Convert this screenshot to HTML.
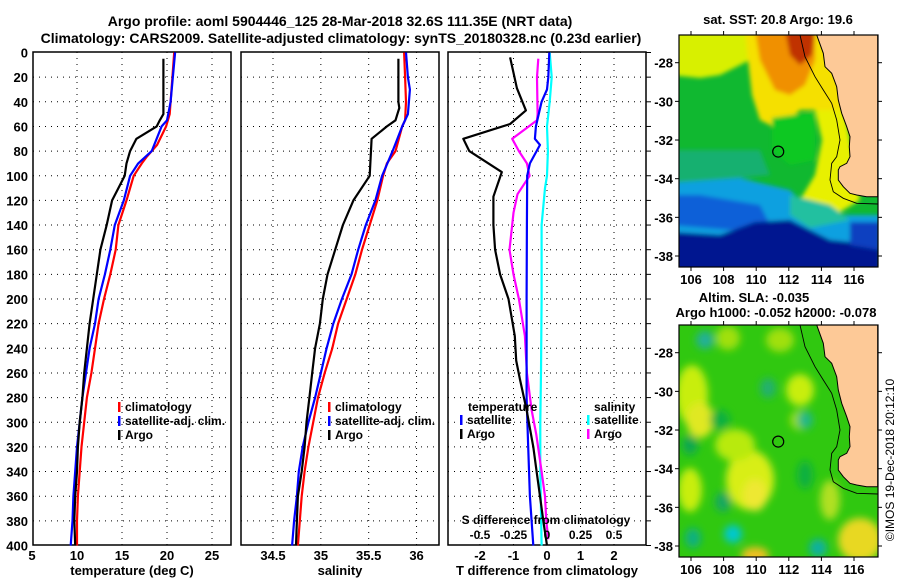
<!DOCTYPE html>
<html><head><meta charset="utf-8">
<style>
html,body{margin:0;padding:0;background:#fff;}
svg{display:block;font-family:"Liberation Sans",sans-serif;font-weight:bold;}
</style></head>
<body>
<svg id="chart" width="900" height="580" viewBox="0 0 900 580" xmlns="http://www.w3.org/2000/svg">
<text x="340" y="26" font-size="14" text-anchor="middle">Argo profile: aoml 5904446_125 28-Mar-2018 32.6S 111.35E (NRT data)</text>
<text x="341" y="43" font-size="14" text-anchor="middle">Climatology: CARS2009. Satellite-adjusted climatology: synTS_20180328.nc (0.23d earlier)</text>
<g id="plots"></g>
<g id="maps"></g>
</svg>
<script>
// ---------- DATA ----------
const depthTicks=[0,20,40,60,80,100,120,140,160,180,200,220,240,260,280,300,320,340,360,380,400];
const tempTicks=[5,10,15,20,25];
const salTicks=[34.5,35,35.5,36];
const salTickLabels=["34.5","35","35.5","36"];
const dTTicks=[-2,-1,0,1,2];
const dSTicks=[-0.5,-0.25,0,0.25,0.5];
const dSTickLabels=["-0.5","-0.25","0","0.25","0.5"];

const tClimDepth=[0,40,50,60,75,85,90,100,120,140,160,180,200,220,240,260,280,300,320,340,360,380,400];
const tClim=[20.8,20.4,20.3,19.9,18.9,17.7,17.2,16.3,15.5,14.6,14.3,13.7,13.0,12.4,12.0,11.6,11.1,10.8,10.5,10.3,10.1,10.0,10.0];
const tSatDepth=[0,40,55,60,80,90,100,120,140,160,180,200,220,240,260,280,300,320,340,360,380,400];
const tSat=[20.9,20.4,20.0,19.4,18.3,16.8,15.9,15.2,14.2,13.7,13.1,12.4,12.0,11.4,11.0,10.6,10.3,10.0,9.8,9.6,9.5,9.3];
const tArgoDepth=[5,50,55,60,70,80,90,100,110,120,140,160,180,200,220,240,260,280,300,320,340,360,380,400];
const tArgo=[19.6,19.6,19.2,18.85,16.6,15.9,15.5,15.3,14.6,13.9,13.3,12.6,12.2,11.8,11.4,11.1,10.8,10.6,10.3,10.1,10.0,9.8,9.7,9.8];

const sClimDepth=[0,20,40,55,60,80,90,100,120,140,160,180,200,220,240,260,280,300,320,340,360,380,400];
const sClim=[35.87,35.88,35.89,35.88,35.85,35.78,35.69,35.65,35.59,35.51,35.43,35.36,35.27,35.18,35.12,35.04,34.97,34.92,34.87,34.83,34.80,34.78,34.76];
const sSatDepth=[0,20,30,50,60,80,100,120,140,160,180,200,220,240,260,280,300,320,340,360,380,400];
const sSat=[35.89,35.91,35.93,35.91,35.85,35.75,35.64,35.57,35.47,35.39,35.32,35.22,35.13,35.06,35.0,34.94,34.87,34.81,34.77,34.75,34.72,34.70];
const sArgoDepth=[5,40,45,50,55,60,70,100,120,140,160,180,200,220,240,260,280,300,320,340,360,380,400];
const sArgo=[35.81,35.81,35.82,35.80,35.78,35.69,35.53,35.51,35.34,35.23,35.15,35.07,35.02,34.99,34.94,34.91,34.88,34.85,34.83,34.80,34.76,34.75,34.74];

const dTArgoDepth=[4,29,47,58,70,80,97,117,140,160,180,200,230,250,265,290,320,340,360,380,400];
const dTArgo=[-1.10,-0.90,-0.63,-1.10,-2.50,-2.32,-1.35,-1.60,-1.60,-1.55,-1.40,-1.15,-0.96,-0.92,-0.81,-0.61,-0.41,-0.31,-0.21,-0.11,0.0];
const dTSatDepth=[0,20,30,40,60,70,75,90,100,140,200,280,320,360,400];
const dTSat=[0.07,0.04,0.0,-0.16,-0.33,-0.36,-0.21,-0.51,-0.59,-0.60,-0.61,-0.61,-0.56,-0.51,-0.41];
const dSSatDepth=[0,20,40,60,80,100,110,140,200,260,300,340,400];
const dSSat=[0.02,0.035,0.02,0.0,0.007,0.0,-0.015,-0.04,-0.04,-0.045,-0.05,-0.05,-0.04];
const dSArgoDepth=[5,20,40,50,55,70,80,90,100,115,130,160,180,200,230,260,290,310,340,360,380,395];
const dSArgo=[-0.065,-0.075,-0.072,-0.07,-0.075,-0.26,-0.21,-0.15,-0.13,-0.22,-0.25,-0.28,-0.25,-0.21,-0.165,-0.15,-0.115,-0.08,-0.04,-0.015,-0.005,0.01];

const lonTicks=[106,108,110,112,114,116];
const latTicks=[-28,-30,-32,-34,-36,-38];
const argoLon=[111.35], argoLat=[-32.6];

// ---------- HELPERS ----------
const NS="http://www.w3.org/2000/svg";
function mk(tag,attrs,parent){const e=document.createElementNS(NS,tag);for(const k in attrs)e.setAttribute(k,attrs[k]);parent.appendChild(e);return e;}
const yD=d=>52.5+d*1.2325;
const xT=t=>32+(t-5)*9;
const xS=s=>273+(s-34.5)*95.7;
const xDT=v=>547+v*33.5;
const xDS=v=>547+v*134;
const plots=document.getElementById('plots');

function panel(x0,x1,name,xticks,xf,labels,title){
  const g=mk('g',{},plots);
  
  
  depthTicks.forEach(d=>{
    if(d>0&&d<400){const l=mk('line',{x1:x0,x2:x1,y1:yD(d),y2:yD(d),stroke:'#000','stroke-width':1,'stroke-dasharray':'1,5'},g);
    
    }
  });
  xticks.forEach((t,i)=>{
    const x=xf(t);
    if(x>x0+2&&x<x1-2){const l=mk('line',{x1:x,x2:x,y1:52,y2:545,stroke:'#000','stroke-width':1,'stroke-dasharray':'1,5'},g);
    
    }
    const tx=mk('text',{x:x,y:560,'font-size':13,'text-anchor':'middle'},g);
    tx.textContent=labels?labels[i]:String(t);
    
    
  });
  const r=mk('rect',{x:x0,y:52,width:x1-x0,height:493,fill:'none',stroke:'#000','stroke-width':1.5},g);
  
  
  const t=mk('text',{x:(x0+x1)/2,y:575,'font-size':13,'text-anchor':'middle'},g);
  t.textContent=title;
  
  
  return g;
}
function line(g,depths,vals,xf,color,name){
  const pts=depths.map((d,i)=>xf(vals[i]).toFixed(1)+','+yD(d).toFixed(1)).join(' ');
  const p=mk('polyline',{points:pts,fill:'none',stroke:color,'stroke-width':2.2,'stroke-linejoin':'round'},g);
  
  
}
function legend(g,x,y,color,label,name){
  const r=mk('rect',{x:x,y:y-9,width:2.5,height:10,fill:color},g);
  
  
  const t=mk('text',{x:x+7,y:y,'font-size':12},g);
  t.textContent=label;
  
  
}

depthTicks.forEach(d=>{
  const t=mk('text',{x:28,y:yD(d)+5,'font-size':13,'text-anchor':'end'},plots);
  t.textContent=String(d);
  
  
});

const p1=panel(33,231,'temperature-panel',tempTicks,xT,null,'temperature (deg C)');
line(p1,tClimDepth,tClim,xT,'#f00','temp-climatology-line');
line(p1,tSatDepth,tSat,xT,'#00f','temp-satellite-line');
line(p1,tArgoDepth,tArgo,xT,'#000','temp-argo-line');
legend(p1,118,411,'#f00','climatology','legend-climatology');
legend(p1,118,425,'#00f','satellite-adj. clim.','legend-satellite-adj');
legend(p1,118,439,'#000','Argo','legend-argo');

const p2=panel(241,439,'salinity-panel',salTicks,xS,salTickLabels,'salinity');
line(p2,sClimDepth,sClim,xS,'#f00','sal-climatology-line');
line(p2,sSatDepth,sSat,xS,'#00f','sal-satellite-line');
line(p2,sArgoDepth,sArgo,xS,'#000','sal-argo-line');
legend(p2,328,411,'#f00','climatology','legend-climatology-2');
legend(p2,328,425,'#00f','satellite-adj. clim.','legend-satellite-adj-2');
legend(p2,328,439,'#000','Argo','legend-argo-2');

const p3=panel(448,646,'difference-panel',dTTicks,xDT,null,'T difference from climatology');
depthTicks.forEach(d=>{
  const l=mk('line',{x1:646,x2:651,y1:yD(d),y2:yD(d),stroke:'#000','stroke-width':1},p3);
  
  
});
line(p3,dSSatDepth,dSSat,xDS,'#0ff','sal-diff-satellite-line');
line(p3,dSArgoDepth,dSArgo,xDS,'#f0f','sal-diff-argo-line');
line(p3,dTSatDepth,dTSat,xDT,'#00f','temp-diff-satellite-line');
line(p3,dTArgoDepth,dTArgo,xDT,'#000','temp-diff-argo-line');
{const t=mk('text',{x:468,y:411,'font-size':12},p3);t.textContent='temperature';


const s=mk('text',{x:594,y:411,'font-size':12},p3);s.textContent='salinity';

}
legend(p3,460,424,'#00f','satellite','legend-temp-satellite');
legend(p3,460,438,'#000','Argo','legend-temp-argo');
legend(p3,587,424,'#0ff','satellite','legend-sal-satellite');
legend(p3,587,438,'#f0f','Argo','legend-sal-argo');
{const t=mk('text',{x:546,y:524,'font-size':12,'text-anchor':'middle'},p3);t.textContent='S difference from climatology';

}
dSTicks.forEach((v,i)=>{
  const t=mk('text',{x:xDS(v),y:539,'font-size':12,'text-anchor':'middle'},p3);
  t.textContent=dSTickLabels[i];
  
  
});

// ---------- MAPS ----------
const maps=document.getElementById('maps');
const MX0=679,MX1=878;
const xLon=l=>691+(l-106)*16.3;
function land(g,oy){
  const zp=[[500,105],[520,160],[525,200],[545,220],[560,260],[565,300],[575,340],[590,380],[600,410],[598,440],[600,470],[590,490],[570,500],[565,510],[565,540],[580,560],[600,580],[620,585],[650,590],[683,590],[683,105]];
  const pts=zp.map(p=>(650+p[0]/3).toFixed(1)+','+(oy+p[1]/3).toFixed(1)).join(' ');
  const p=mk('polygon',{points:pts,fill:'#fdc997',stroke:'#000','stroke-width':1},g);
  
  
  const sh=[[450,105],[465,170],[495,230],[520,270],[545,310],[560,360],[570,420],[560,470],[545,490],[540,540],[550,575],[580,595],[620,610],[683,612]];
  const s=mk('polyline',{points:sh.map(p=>(650+p[0]/3).toFixed(1)+','+(oy+p[1]/3).toFixed(1)).join(' '),fill:'none',stroke:'#000','stroke-width':0.9},g);
  
  
}
function mapAxes(g,y0,y1,name){
  const yLat=l=>y0+27.7+(-28-l)*19.33;
  const r=mk('rect',{x:MX0,y:y0,width:MX1-MX0,height:y1-y0,fill:'none',stroke:'#000','stroke-width':1.2},g);
  
  
  lonTicks.forEach(l=>{
    const x=xLon(l);
    mk('line',{x1:x,x2:x,y1:y0-4,y2:y0,stroke:'#000'},g);
    mk('line',{x1:x,x2:x,y1:y1,y2:y1+4,stroke:'#000'},g);
    const t=mk('text',{x:x,y:y1+17,'font-size':13,'text-anchor':'middle'},g);
    t.textContent=String(l);
    
    
  });
  latTicks.forEach(l=>{
    const y=yLat(l);
    mk('line',{x1:MX0-4,x2:MX0,y1:y,y2:y,stroke:'#000'},g);
    mk('line',{x1:MX1,x2:MX1+4,y1:y,y2:y,stroke:'#000'},g);
    const t=mk('text',{x:673,y:y+5,'font-size':13,'text-anchor':'end'},g);
    t.textContent=String(l);
    
    
  });
  const c=mk('circle',{cx:xLon(argoLon[0]),cy:yLat(argoLat[0]),r:5.5,fill:'none',stroke:'#000','stroke-width':1.2},g);
  
  
}

// top SST map
{
const g=mk('g',{},maps);


const defs=mk('defs',{},g);
const f=mk('filter',{id:'bl',x:'-20%',y:'-20%',width:'140%',height:'140%'},defs);
mk('feGaussianBlur',{stdDeviation:2},f);
const f2=mk('filter',{id:'bl2',x:'-30%',y:'-30%',width:'160%',height:'160%'},defs);
mk('feGaussianBlur',{stdDeviation:4},f2);
const cp=mk('clipPath',{id:'c1'},defs);
mk('rect',{x:MX0,y:35,width:MX1-MX0,height:232},cp);
const cl=mk('g',{'clip-path':'url(#c1)'},g);
mk('rect',{x:MX0,y:35,width:MX1-MX0,height:232,fill:'#10b830'},cl);
const fl=mk('g',{filter:'url(#bl)'},cl);
const regs=[
 ['670,30 760,30 750,60 720,75 700,78 670,75','#d8f000'],
 ['745,30 830,30 845,110 830,120 820,110 800,110 780,130 760,120 752,95 748,60','#f5e000'],
 ['755,30 815,30 815,60 805,85 790,95 775,90 760,60','#f09000'],
 ['785,30 815,30 812,55 800,65 790,55','#c03000'],
 ['772,118 815,112 815,160 790,165 772,150','#10c820'],
 ['815,110 845,110 860,200 835,215 815,210 800,200 815,175 822,140','#e8f000'],
 ['670,150 760,150 770,175 670,185','#18b070'],
 ['670,183 740,178 790,190 800,200 840,215 880,215 880,280 670,280','#10a0e0'],
 ['670,195 700,195 760,205 770,225 730,230 670,225','#1060d8'],
 ['790,195 830,205 850,220 810,228 790,215','#20c0a0'],
 ['670,232 720,235 755,222 790,220 830,240 880,245 880,280 670,280','#001890'],
 ['850,222 880,222 880,250 850,245','#1040c0']
];
regs.forEach(r=>{const p=mk('polygon',{points:r[0],fill:r[1]},fl);

});
land(cl,0);
mapAxes(g,35,267,'sst-map');
const t=mk('text',{x:778,y:24,'font-size':13,'text-anchor':'middle'},g);
t.textContent='sat. SST: 20.8 Argo: 19.6';


}

// bottom SLA map
{
const g=mk('g',{},maps);


const defs=mk('defs',{},g);
const cp=mk('clipPath',{id:'c2'},defs);
mk('rect',{x:MX0,y:325,width:MX1-MX0,height:232},cp);
const cl=mk('g',{'clip-path':'url(#c2)'},g);
mk('rect',{x:MX0,y:325,width:MX1-MX0,height:232,fill:'#30c810'},cl);
const fl=mk('g',{filter:'url(#bl2)'},cl);
const blobs=[[692,395,16,30,'#c8ee10'],[700,420,14,18,'#e0e820'],[750,480,24,30,'#d8ee18'],[755,495,12,16,'#eee830'],[800,390,14,16,'#c8ee10'],[800,420,10,10,'#9ee000'],[690,490,12,22,'#c8ee10'],[735,445,20,16,'#b8ea10'],[860,540,22,22,'#e8d820'],[755,555,14,8,'#f0c020'],[830,500,10,20,'#b0e020'],[728,338,12,12,'#a0e010'],[780,340,14,12,'#a0e010'],
[705,340,9,9,'#20b098'],[768,388,8,10,'#20b070'],[805,420,8,9,'#20b888'],[720,420,10,10,'#10b040'],[690,445,8,10,'#10a850'],[723,502,8,10,'#15a860'],[733,534,9,9,'#00c8d0'],[693,538,8,10,'#10b080'],[818,548,9,9,'#10b0a0'],[805,475,8,14,'#10b040']];
blobs.forEach(b=>{const e=mk('ellipse',{cx:b[0],cy:b[1],rx:b[2],ry:b[3],fill:b[4]},fl);

});
land(cl,290);
mapAxes(g,325,557,'sla-map');
const t1=mk('text',{x:754,y:302,'font-size':13,'text-anchor':'middle'},g);
t1.textContent='Altim. SLA: -0.035';


const t2=mk('text',{x:776,y:317,'font-size':13,'text-anchor':'middle'},g);
t2.textContent='Argo h1000: -0.052 h2000: -0.078';


const c=mk('text',{x:0,y:0,'font-size':12,'font-weight':'normal','text-anchor':'middle',transform:'translate(894,460) rotate(-90)'},g);
c.textContent='©IMOS 19-Dec-2018 20:12:10';


}
</script>
</body></html>
